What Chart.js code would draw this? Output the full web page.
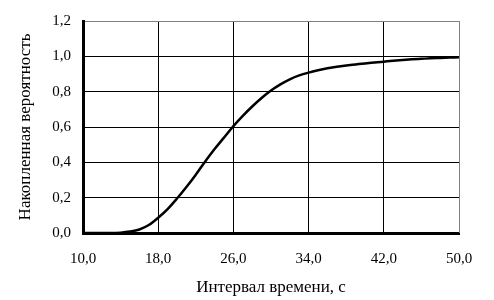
<!DOCTYPE html>
<html>
<head>
<meta charset="utf-8">
<script src="https://cdn.jsdelivr.net/npm/chart.js@4/dist/chart.umd.min.js"></script>
<style>
  html, body { margin: 0; padding: 0; background: #fff; }
  #wrap { width: 494px; height: 300px; }
</style>
</head>
<body>
<div id="wrap"><canvas id="cdfChart"></canvas></div>
<script>
// Interval (s) and cumulative probability
const intervals = [10, 11, 12, 13, 14, 15, 16, 17, 18, 19, 20, 21, 22, 23, 24, 25, 26, 27, 28, 29, 30,
                   31, 32, 33, 34, 35, 36, 37, 38, 39, 40, 41, 42, 43, 44, 45, 46, 47, 48, 49, 50];
const probability = [0, 0, 0, 0, 0.002, 0.008, 0.02, 0.045, 0.086, 0.135, 0.195, 0.26, 0.33, 0.405, 0.475, 0.54, 0.605, 0.663, 0.716, 0.764, 0.806,
                     0.841, 0.87, 0.892, 0.908, 0.921, 0.932, 0.941, 0.948, 0.954, 0.96, 0.965, 0.97, 0.975, 0.979, 0.983, 0.986, 0.989, 0.991, 0.993, 0.995];
const xTicks = [10, 18, 26, 34, 42, 50];
const yTicks = [0, 0.2, 0.4, 0.6, 0.8, 1.0, 1.2];
const xTitle = 'Интервал времени, с';
const yTitle = 'Накопленная вероятность';

const serif = '"Liberation Serif", "Times New Roman", serif';
const fmt = v => v.toFixed(1).replace('.', ',');

const points = intervals.map((x, i) => ({ x: x, y: probability[i] }));

new Chart(document.getElementById('cdfChart'), {
    type: 'line',
    data: {
        datasets: [{
            data: points,
            borderColor: '#000',
            borderWidth: 2.5,
            pointRadius: 0,
            cubicInterpolationMode: 'monotone',
            fill: false
        }]
    },
    options: {
        responsive: true,
        maintainAspectRatio: false,
        animation: false,
        layout: { padding: { left: 15, right: 35, top: 17, bottom: 2 } },
        plugins: { legend: { display: false }, tooltip: { enabled: false } },
        scales: {
            x: {
                type: 'linear',
                min: 10,
                max: 50,
                afterBuildTicks: s => { s.ticks = xTicks.map(v => ({ value: v })); },
                afterFit: s => { s.height = 65; },
                grid: {
                    drawTicks: false,
                    color: ctx => ctx.tick && ctx.tick.value === 50 ? '#808080' : '#000',
                    lineWidth: 1
                },
                border: { color: '#000', width: 3 },
                ticks: {
                    color: '#000',
                    padding: 17,
                    maxRotation: 0,
                    font: { family: serif, size: 15 },
                    callback: v => fmt(v)
                },
                title: {
                    display: true,
                    text: xTitle,
                    color: '#000',
                    padding: { top: 0, bottom: 0 },
                    font: { family: serif, size: 17 }
                }
            },
            y: {
                min: 0,
                max: 1.2,
                afterBuildTicks: s => { s.ticks = yTicks.map(v => ({ value: v })); },
                afterFit: s => { s.width = 68; },
                grid: {
                    drawTicks: false,
                    color: ctx => ctx.tick && ctx.tick.value === 1.2 ? '#808080' : '#000',
                    lineWidth: 1
                },
                border: { color: '#000', width: 3 },
                ticks: {
                    color: '#000',
                    padding: 12,
                    font: { family: serif, size: 15 },
                    callback: v => fmt(v)
                },
                title: {
                    display: true,
                    text: yTitle,
                    color: '#000',
                    padding: { top: 0, bottom: 0 },
                    font: { family: serif, size: 17 }
                }
            }
        }
    },
    plugins: [{
        id: 'rightEdge',
        afterDraw(chart) {
            // gray right border of the plot area
            const { ctx, chartArea } = chart;
            ctx.save();
            ctx.strokeStyle = '#808080';
            ctx.lineWidth = 1;
            ctx.beginPath();
            ctx.moveTo(Math.round(chartArea.right) + 0.5, chartArea.top);
            ctx.lineTo(Math.round(chartArea.right) + 0.5, chartArea.bottom);
            ctx.stroke();
            ctx.restore();
        }
    }]
});
</script>
</body>
</html>
